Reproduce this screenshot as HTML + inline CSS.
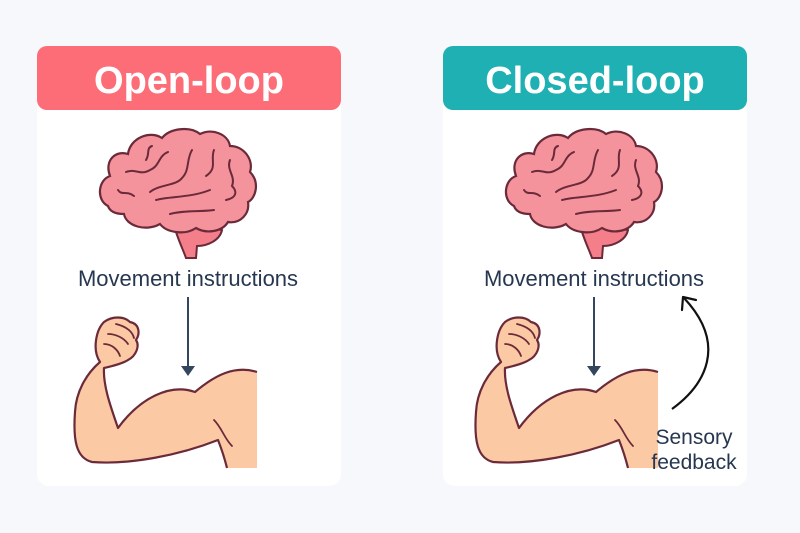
<!DOCTYPE html>
<html><head><meta charset="utf-8"><style>
html,body{margin:0;padding:0;background:#f6f8fc;}
svg{display:block}
text{font-family:"Liberation Sans",sans-serif}
</style></head><body>
<svg width="800" height="533" viewBox="0 0 800 533" xmlns="http://www.w3.org/2000/svg">
<defs>
<g id="brain">
  <path d="M178,222 L176,232 C180,244 184,252 186,258 L196,258 L197,246 C208,246 220,240 222,230 Z" fill="#f47f8a" stroke="#6b2a3a" stroke-width="2"/>
  <path d="M108,206 C96,200 98,180 110,176 C104,160 116,150 128,154 C130,138 150,130 162,138 C170,128 190,126 200,134 C212,128 228,134 230,146 C244,146 254,160 250,172 C260,182 256,198 248,202 C250,214 240,224 228,222 C222,232 206,234 196,228 C184,236 166,232 160,224 C146,232 126,226 124,214 C116,214 110,212 108,206 Z" fill="#f5939c" stroke="#6b2a3a" stroke-width="2.2"/>
  <g fill="none" stroke="#6b2a3a" stroke-width="2" stroke-linecap="round">
    <path d="M156,200 C170,196 190,198 210,190"/>
    <path d="M170,214 C185,210 200,212 214,210"/>
    <path d="M126,172 C136,168 140,176 150,170 C160,166 158,156 168,152"/>
    <path d="M192,150 C186,160 190,170 182,178 C176,186 160,184 150,192"/>
    <path d="M214,150 C210,160 218,168 206,176"/>
    <path d="M230,160 C226,170 236,176 232,186 C238,192 236,198 226,200"/>
    <path d="M134,196 C126,190 122,196 118,190"/>
    <path d="M146,160 C150,154 146,148 152,146"/>
  </g>
</g>
<g id="arm">
  <path d="M257,372 C235,365 215,375 195,392 C170,383 140,398 118,428 C110,405 103,385 104,368 C112,366 122,364 128,360 C136,356 140,346 136,340 C140,334 140,324 130,322 C124,316 112,316 104,322 C96,330 92,350 100,362 C86,374 76,392 75,412 C73,440 76,458 92,462 C130,465 180,455 218,440 C222,450 225,460 227,468 L257,468 Z" fill="#fbc9a4"/>
  <path d="M257,372 C235,365 215,375 195,392 C170,383 140,398 118,428 C110,405 103,385 104,368 C112,366 122,364 128,360 C136,356 140,346 136,340 C140,334 140,324 130,322 C124,316 112,316 104,322 C96,330 92,350 100,362 C86,374 76,392 75,412 C73,440 76,458 92,462 C130,465 180,455 218,440 C222,450 225,460 227,468" fill="none" stroke="#6b2a3a" stroke-width="2.2" stroke-linejoin="round"/>
  <g fill="none" stroke="#6b2a3a" stroke-width="1.8" stroke-linecap="round">
    <path d="M108,334 C116,334 124,338 128,344"/>
    <path d="M104,344 C112,344 118,350 120,356"/>
    <path d="M116,324 C124,326 132,330 134,338"/>
    <path d="M214,420 C222,428 224,438 232,446"/>
  </g>
</g>
</defs>

<rect x="37" y="46" width="304" height="440" rx="12" fill="#ffffff"/>
<rect x="37" y="46" width="304" height="64" rx="10" fill="#fd6d78"/>
<text x="189" y="93" text-anchor="middle" font-size="38" font-weight="bold" fill="#ffffff">Open-loop</text>
<use href="#brain"/>
<text x="188" y="286" text-anchor="middle" font-size="22" fill="#26374f">Movement instructions</text>
<line x1="188" y1="297" x2="188" y2="368" stroke="#34455e" stroke-width="2"/>
<path d="M181,366 L195,366 L188,376 Z" fill="#34455e"/>
<use href="#arm"/>

<rect x="443" y="46" width="304" height="440" rx="12" fill="#ffffff"/>
<rect x="443" y="46" width="304" height="64" rx="10" fill="#1eb0b2"/>
<text x="595" y="93" text-anchor="middle" font-size="38" font-weight="bold" fill="#ffffff">Closed-loop</text>
<use href="#brain" transform="translate(406,0)"/>
<text x="594" y="286" text-anchor="middle" font-size="22" fill="#26374f">Movement instructions</text>
<line x1="594" y1="297" x2="594" y2="368" stroke="#34455e" stroke-width="2"/>
<path d="M587,366 L601,366 L594,376 Z" fill="#34455e"/>
<g transform="translate(401,0)"><use href="#arm"/></g>
<path d="M672,409 C705,385 728,345 684,298" fill="none" stroke="#111" stroke-width="2.2"/>
<path d="M682,310 L683,297 L696,300" fill="none" stroke="#111" stroke-width="2.2" stroke-linecap="round" stroke-linejoin="round"/>
<text x="694" y="444" text-anchor="middle" font-size="21" fill="#26374f">Sensory</text>
<text x="694" y="469" text-anchor="middle" font-size="21" fill="#26374f">feedback</text>
</svg>
</body></html>
